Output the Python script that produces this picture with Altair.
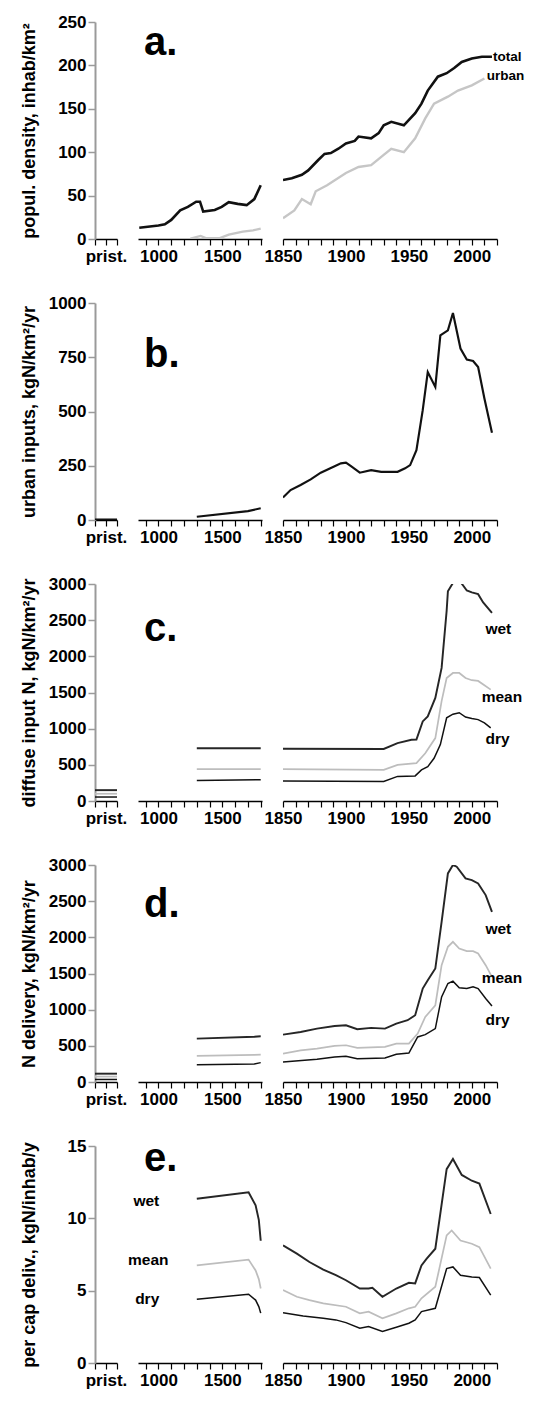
import altair as alt
import pandas as pd

FONT = "Liberation Sans"

# ---------------- axis ticks / labels ----------------
PRIST_TICKS = [0, 1, 2]
MED_TICKS = [900, 1000, 1100, 1200, 1300, 1400, 1500, 1600, 1700, 1800]
MOD_TICKS = [1850, 1860, 1870, 1880, 1890, 1900, 1910, 1920, 1930, 1940,
             1950, 1960, 1970, 1980, 1990, 2000, 2010, 2020]
PRIST_LABEL = "prist."
MED_LABELS = [1000, 1500]
MOD_LABELS = [1850, 1900, 1950, 2000]

# ---------------- panel a: population density ----------------
A_MED_TOTAL_YR = [850, 1000, 1050, 1100, 1170, 1230, 1295, 1325, 1350, 1440, 1495, 1550, 1620, 1690, 1750, 1800]
A_MED_TOTAL = [13, 15.5, 17, 22, 33, 37, 43, 43, 31.5, 33.5, 37, 42.5, 40.5, 39, 46, 62]
A_MED_URBAN_YR = [1250, 1330, 1370, 1480, 1550, 1660, 1740, 1800]
A_MED_URBAN = [0.5, 3.5, 1, 1, 5, 8.5, 10, 12]
A_MOD_TOTAL_YR = [1850, 1857, 1865, 1870, 1878, 1883, 1888, 1894, 1900, 1907, 1910, 1920, 1926,
                  1930, 1936, 1946, 1955, 1960, 1965, 1973, 1980, 1986, 1992, 2000, 2008, 2016]
A_MOD_TOTAL = [68, 70, 74, 79, 91, 98, 99, 104, 110, 113, 118, 116, 122,
               131, 135, 131, 145, 156, 171, 187, 191, 197, 204, 208, 210, 210]
A_MOD_URBAN_YR = [1850, 1859, 1865, 1872, 1876, 1885, 1900, 1910, 1920, 1930, 1936, 1946,
                  1955, 1963, 1970, 1981, 1989, 2000, 2010]
A_MOD_URBAN = [24, 33, 46, 40, 55, 62, 76, 83, 85, 97, 104, 100, 116, 139, 156, 164, 171, 177, 185]

# ---------------- panel b: urban inputs ----------------
B_PRIST = [2, 2]
B_MED_YR = [1300, 1700, 1800]
B_MED = [15, 41, 54]
B_MOD_YR = [1850, 1856, 1864, 1872, 1880, 1891, 1896, 1900, 1904, 1911, 1920, 1928, 1941, 1947,
            1951, 1956, 1961, 1965, 1971, 1975, 1981, 1985, 1991, 1996, 2001, 2005, 2010, 2016]
B_MOD = [104, 138, 161, 187, 218, 248, 261, 264, 248, 218, 230, 222, 222, 238,
         253, 322, 506, 682, 613, 851, 874, 954, 790, 739, 733, 705, 560, 402]

# ---------------- panel c: diffuse input N ----------------
C_PRIST = {"wet": [150, 150], "mean": [100, 100], "dry": [55, 55]}
C_MED_YR = [1300, 1800]
C_MED = {"wet": [730, 730], "mean": [440, 440], "dry": [285, 295]}
C_WET_YR = [1850, 1930, 1941, 1952, 1956, 1961, 1965, 1971, 1976, 1980, 1981, 1988, 1996, 2000, 2005, 2009, 2016]
C_WET = [722, 720, 800, 847, 850, 1100, 1170, 1425, 1840, 2630, 2900, 3100, 2910, 2885, 2860, 2745, 2600]
C_MEAN_YR = [1850, 1930, 1941, 1956, 1963, 1971, 1976, 1980, 1985, 1990, 1995, 2000, 2005, 2010, 2015]
C_MEAN = [440, 430, 500, 523, 660, 870, 1380, 1700, 1770, 1770, 1700, 1670, 1660, 1600, 1540]
C_DRY_YR = [1850, 1930, 1941, 1955, 1960, 1965, 1970, 1975, 1980, 1985, 1990, 1995, 2000, 2005, 2010, 2015]
C_DRY = [278, 270, 340, 347, 430, 475, 590, 780, 1150, 1200, 1220, 1160, 1140, 1125, 1080, 1010]

# ---------------- panel d: N delivery ----------------
D_PRIST = {"wet": [115, 115], "mean": [75, 75], "dry": [35, 35]}
D_MED_YR = [1300, 1750, 1800]
D_MED = {"wet": [600, 625, 632], "mean": [360, 375, 378], "dry": [240, 250, 268]}
D_WET_YR = [1850, 1864, 1877, 1891, 1900, 1909, 1920, 1931, 1940, 1949, 1955, 1961, 1965, 1971,
            1976, 1981, 1985, 1988, 1995, 2000, 2005, 2011, 2016]
D_WET = [655, 692, 738, 775, 785, 729, 748, 738, 808, 854, 923, 1292, 1408, 1569,
         2215, 2884, 3000, 2977, 2815, 2792, 2746, 2584, 2353]
D_MEAN_YR = [1850, 1864, 1877, 1891, 1900, 1909, 1931, 1940, 1950, 1957, 1963, 1971, 1976, 1981,
             1985, 1990, 1996, 2001, 2005, 2011, 2016]
D_MEAN = [392, 438, 461, 498, 508, 471, 485, 531, 531, 669, 900, 1061, 1615, 1869,
          1938, 1846, 1809, 1809, 1777, 1615, 1454]
D_DRY_YR = [1850, 1877, 1891, 1900, 1909, 1931, 1940, 1950, 1957, 1963, 1971, 1976, 1981, 1985,
            1990, 1996, 2001, 2005, 2011, 2016]
D_DRY = [277, 314, 346, 355, 323, 332, 383, 401, 623, 655, 738, 1177, 1362, 1394,
         1302, 1292, 1315, 1292, 1154, 1052]

# ---------------- panel e: per capita delivery ----------------
E_MED_YR = [1300, 1705, 1760, 1785, 1800]
E_MED = {"wet": [11.35, 11.8, 10.9, 9.9, 8.45],
         "mean": [6.75, 7.15, 6.4, 5.8, 5.15],
         "dry": [4.4, 4.75, 4.35, 3.9, 3.45]}
E_WET_YR = [1850, 1861, 1871, 1882, 1892, 1900, 1911, 1918, 1921, 1929, 1940, 1950, 1955, 1960,
            1964, 1971, 1980, 1985, 1992, 2000, 2006, 2015]
E_WET = [8.13, 7.56, 6.98, 6.46, 6.07, 5.72, 5.15, 5.15, 5.2, 4.58, 5.15, 5.54, 5.5, 6.75,
         7.2, 7.9, 13.4, 14.1, 13.0, 12.6, 12.4, 10.3]
E_MEAN_YR = [1850, 1861, 1871, 1882, 1900, 1911, 1918, 1929, 1940, 1950, 1955, 1960, 1971, 1980,
             1984, 1991, 2000, 2006, 2015]
E_MEAN = [5.04, 4.58, 4.35, 4.12, 3.89, 3.43, 3.55, 3.09, 3.43, 3.78, 3.89, 4.47, 5.27, 8.82,
          9.16, 8.47, 8.24, 8.01, 6.53]
E_DRY_YR = [1850, 1866, 1882, 1892, 1900, 1911, 1918, 1929, 1940, 1950, 1955, 1960, 1971, 1980,
            1985, 1991, 2000, 2006, 2015]
E_DRY = [3.48, 3.25, 3.09, 2.98, 2.79, 2.40, 2.52, 2.18, 2.47, 2.75, 2.98, 3.55, 3.78, 6.53,
         6.64, 6.07, 5.95, 5.91, 4.69]

# ---------------- text annotations ----------------
LETTERS = ["a.", "b.", "c.", "d.", "e."]
LETTER_X = 887
LETTER_V = [212, 706, 2208, 2281, 13.3]
A_LABELS = {"t": ["total", "urban"], "x": [2016, 2011], "v": [210, 188]}
C_LABELS = {"t": ["wet", "mean", "dry"], "x": [2010, 2007, 2010], "v": [2375, 1444, 861]}
D_LABELS = {"t": ["wet", "mean", "dry"], "x": [2010, 2007, 2010], "v": [2115, 1438, 857]}
E_LABELS = {"t": ["wet", "mean", "dry"], "x": [905, 920, 912], "v": [11.2, 7.1, 4.45]}

Y_TITLES = ["popul. density, inhab/km²", "urban inputs, kgN/km²/yr",
            "diffuse input N, kgN/km²/yr", "N delivery, kgN/km²/yr",
            "per cap deliv., kgN/inhab/y"]
Y_DOMAINS = [[0, 250], [0, 1000], [0, 3000], [0, 3000], [0, 15]]
Y_TICKS = [[0, 50, 100, 150, 200, 250], [0, 250, 500, 750, 1000],
           [0, 500, 1000, 1500, 2000, 2500, 3000], [0, 500, 1000, 1500, 2000, 2500, 3000],
           [0, 5, 10, 15]]

# ---------------- styles ----------------
SERIES = ["total", "urban", "inputs", "wet", "mean", "dry"]
COLORS = ["#111111", "#c6c6c6", "#111111", "#262626", "#bdbdbd", "#111111"]
WIDTHS = [2.6, 1.5, 2.0, 1.8, 1.5, 2.2]
H = 217
W_PRIST, W_MED, W_MOD = 22, 124, 214


def long_df(parts):
    rows = []
    for name, xs, vs in parts:
        for xx, vv in zip(xs, vs):
            rows.append({"x": xx, "v": vv, "s": name})
    if not rows:
        return pd.DataFrame({"x": pd.Series([], dtype=float),
                             "v": pd.Series([], dtype=float),
                             "s": pd.Series([], dtype=str)})
    return pd.DataFrame(rows)


def x_axis(values, expr):
    return alt.Axis(values=values, labelExpr=expr, title=None, grid=False,
                    domainColor="black", domainWidth=1.5, tickColor="black",
                    tickWidth=1.2, tickSize=6, labelPadding=3,
                    labelFont=FONT, labelFontWeight="bold", labelFontSize=17,
                    labelColor="black", labelOverlap=False, labelFlush=False)


def y_axis(values, title):
    return alt.Axis(values=values, title=title, grid=False, format="d",
                    domainColor="#9a9a9a", domainWidth=2, tickColor="#9a9a9a",
                    tickWidth=1.5, tickSize=7, labelPadding=2,
                    labelFont=FONT, labelFontWeight="bold", labelFontSize=17,
                    labelColor="black", titleFont=FONT, titleFontWeight="bold",
                    titleFontSize=18, titleColor="black", titleX=-57)


def sub(df, xdom, xticks, expr, width, ydom, yaxis, texts=()):
    xe = alt.X("x:Q", scale=alt.Scale(domain=xdom, nice=False, zero=False),
               axis=x_axis(xticks, expr))
    ye = alt.Y("v:Q", scale=alt.Scale(domain=ydom, nice=False, zero=False), axis=yaxis)
    lines = alt.Chart(df).mark_line(clip=True).encode(
        x=xe, y=ye,
        color=alt.Color("s:N", scale=alt.Scale(domain=SERIES, range=COLORS), legend=None),
        strokeWidth=alt.StrokeWidth("s:N", scale=alt.Scale(domain=SERIES, range=WIDTHS), legend=None),
    )
    layers = [lines]
    for tdf, props in texts:
        layers.append(alt.Chart(tdf).mark_text(font=FONT, fontWeight="bold", color="black", **props)
                      .encode(x=xe, y=ye, text="t:N"))
    return alt.layer(*layers).properties(width=width, height=H)


prist_expr = "datum.value == 1 ? '" + PRIST_LABEL + "' : ''"
med_expr = " || ".join("datum.value == %d" % v for v in MED_LABELS)
med_expr = "(" + med_expr + ") ? format(datum.value, 'd') : ''"
mod_expr = " || ".join("datum.value == %d" % v for v in MOD_LABELS)
mod_expr = "(" + mod_expr + ") ? format(datum.value, 'd') : ''"

prist_x = [0, 2]
panels_data = [
    (long_df([]),
     long_df([("total", A_MED_TOTAL_YR, A_MED_TOTAL), ("urban", A_MED_URBAN_YR, A_MED_URBAN)]),
     long_df([("total", A_MOD_TOTAL_YR, A_MOD_TOTAL), ("urban", A_MOD_URBAN_YR, A_MOD_URBAN)]),
     None, A_LABELS, "left", 13.5),
    (long_df([("inputs", prist_x, B_PRIST)]),
     long_df([("inputs", B_MED_YR, B_MED)]),
     long_df([("inputs", B_MOD_YR, B_MOD)]),
     None, None, "left", 15),
    (long_df([(k, prist_x, C_PRIST[k]) for k in ["wet", "mean", "dry"]]),
     long_df([(k, C_MED_YR, C_MED[k]) for k in ["wet", "mean", "dry"]]),
     long_df([("wet", C_WET_YR, C_WET), ("mean", C_MEAN_YR, C_MEAN), ("dry", C_DRY_YR, C_DRY)]),
     None, C_LABELS, "left", 15.5),
    (long_df([(k, prist_x, D_PRIST[k]) for k in ["wet", "mean", "dry"]]),
     long_df([(k, D_MED_YR, D_MED[k]) for k in ["wet", "mean", "dry"]]),
     long_df([("wet", D_WET_YR, D_WET), ("mean", D_MEAN_YR, D_MEAN), ("dry", D_DRY_YR, D_DRY)]),
     None, D_LABELS, "left", 15.5),
    (long_df([]),
     long_df([(k, E_MED_YR, E_MED[k]) for k in ["wet", "mean", "dry"]]),
     long_df([("wet", E_WET_YR, E_WET), ("mean", E_MEAN_YR, E_MEAN), ("dry", E_DRY_YR, E_DRY)]),
     E_LABELS, None, "center", 15.5),
]

cells = []
for i, (pdf, mdf, odf, med_lab, mod_lab, lab_align, lab_size) in enumerate(panels_data):
    letter_df = pd.DataFrame({"t": [LETTERS[i]], "x": [LETTER_X], "v": [LETTER_V[i]]})
    med_texts = [(letter_df, dict(fontSize=40, align="left", baseline="alphabetic"))]
    if med_lab:
        med_texts.append((pd.DataFrame(med_lab), dict(fontSize=lab_size, align=lab_align, baseline="middle")))
    mod_texts = []
    if mod_lab:
        mod_texts.append((pd.DataFrame(mod_lab), dict(fontSize=lab_size, align=lab_align, baseline="middle", dx=1)))
    cells.append(sub(pdf, [0, 2], PRIST_TICKS, prist_expr, W_PRIST, Y_DOMAINS[i],
                     y_axis(Y_TICKS[i], Y_TITLES[i])))
    cells.append(sub(mdf, [840, 1810], MED_TICKS, med_expr, W_MED, Y_DOMAINS[i], None, med_texts))
    cells.append(sub(odf, [1850, 2020], MOD_TICKS, mod_expr, W_MOD, Y_DOMAINS[i], None, mod_texts))

chart = alt.concat(*cells, columns=3, spacing={"row": 64, "column": 21},
                   bounds="flush", align="each").properties(
    padding={"left": 11, "top": 5, "right": 5, "bottom": 5}
).configure_view(stroke=None)

chart.save("out.html", embed_options={"renderer": "svg", "actions": False})
